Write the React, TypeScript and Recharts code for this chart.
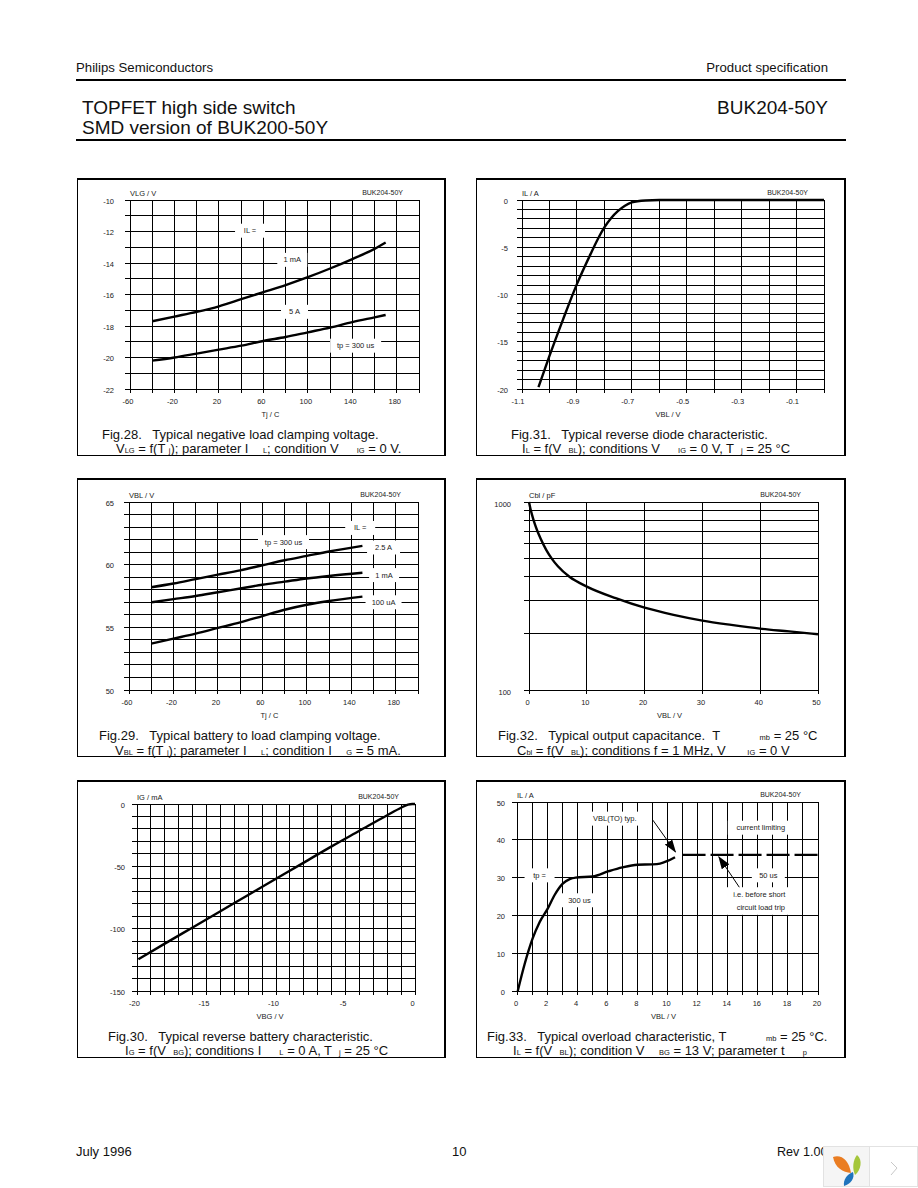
import React from 'react';
import { LineChart, Line, XAxis, YAxis, CartesianGrid, ReferenceDot } from 'recharts';

// ---- Fig.28
const f28XTicks = [-60, -40, -20, 0, 20, 40, 60, 80, 100, 120, 140, 160, 180, 200];
const f28XLabels = [-60, -20, 20, 60, 100, 140, 180];
const f28YTicks = [-22, -21, -20, -19, -18, -17, -16, -15, -14, -13, -12, -11, -10];
const f28YLabels = [-22, -20, -18, -16, -14, -12, -10];
const f28Temp = [-40, -20, 0, 20, 40, 60, 80, 100, 120, 140, 160, 170];
const f28OneMilliAmp = [-17.7, -17.4, -17.1, -16.75, -16.3, -15.85, -15.4, -14.9, -14.35, -13.75, -13.1, -12.7];
const f28FiveAmp = [-20.2, -20.0, -19.75, -19.5, -19.25, -18.95, -18.7, -18.4, -18.1, -17.75, -17.45, -17.3];
const f28Notes = [
  { x: 48, y: -11.95, text: 'IL =' },
  { x: 86, y: -13.8, text: '1 mA' },
  { x: 88, y: -17.1, text: '5 A' },
  { x: 143, y: -19.25, text: 'tp = 300 us' },
];

// ---- Fig.31
const f31XTicks = [-1.1, -1, -0.9, -0.8, -0.7, -0.6, -0.5, -0.4, -0.3, -0.2, -0.1, 0];
const f31XLabels = [-1.1, -0.9, -0.7, -0.5, -0.3, -0.1];
const f31YTicks = [-20, -19, -18, -17, -16, -15, -14, -13, -12, -11, -10, -9, -8, -7, -6, -5, -4, -3, -2, -1, 0];
const f31YLabels = [-20, -15, -10, -5, 0];
const f31Volt = [-1.04, -1.0, -0.95, -0.9, -0.85, -0.825, -0.8, -0.775, -0.75, -0.725, -0.7, -0.65, -0.6, 0];
const f31Current = [-19.8, -16.5, -12.6, -8.9, -5.7, -4.2, -2.9, -1.9, -1.15, -0.6, -0.25, -0.05, 0, 0];

// ---- Fig.29
const f29XTicks = f28XTicks;
const f29XLabels = f28XLabels;
const f29YTicks = [50, 51, 52, 53, 54, 55, 56, 57, 58, 59, 60, 61, 62, 63, 64, 65];
const f29YLabels = [50, 55, 60, 65];
const f29Temp = [-40, -20, 0, 20, 40, 60, 80, 100, 120, 150];
const f29TwoFiveAmp = [58.2, 58.5, 58.85, 59.2, 59.55, 59.95, 60.35, 60.7, 61.05, 61.5];
const f29OneMilliAmp = [57, 57.25, 57.5, 57.8, 58.1, 58.4, 58.65, 58.9, 59.1, 59.35];
const f29HundredMicroAmp = [53.7, 54.1, 54.5, 54.95, 55.4, 55.9, 56.4, 56.8, 57.1, 57.45];
const f29Notes = [
  { x: 148, y: 62.93, text: 'IL =' },
  { x: 79, y: 61.8, text: 'tp = 300 us' },
  { x: 169, y: 61.37, text: '2.5 A' },
  { x: 169.5, y: 59.17, text: '1 mA' },
  { x: 169, y: 57, text: '100 uA' },
];

// ---- Fig.32
const f32XTicks = [0, 10, 20, 30, 40, 50];
const f32YTicks = [100, 200, 300, 400, 500, 600, 700, 800, 900, 1000];
const f32YLabels = [100, 1000];
const f32Volt = [0, 0.25, 0.5, 1, 1.5, 2, 3, 4, 5, 7, 10, 15, 20, 25, 30, 35, 40, 45, 50];
const f32Cap = [1000, 920, 860, 765, 695, 640, 555, 497, 455, 400, 355, 308, 274, 251, 234, 222, 212, 205, 198];

// ---- Fig.30
const f30XTicks = [-20, -19, -18, -17, -16, -15, -14, -13, -12, -11, -10, -9, -8, -7, -6, -5, -4, -3, -2, -1, 0];
const f30XLabels = [-20, -15, -10, -5, 0];
const f30YTicks = [-150, -140, -130, -120, -110, -100, -90, -80, -70, -60, -50, -40, -30, -20, -10, 0];
const f30YLabels = [-150, -100, -50, 0];
const f30Volt = [-19.9, -18, -16, -14, -12, -10, -8, -6, -4, -2, -1, -0.5, -0.2, 0];
const f30Current = [-124.5, -112, -99, -86, -73, -60, -47, -34, -21.5, -9, -3, -0.5, 0, 0];

// ---- Fig.33
const f33XTicks = [0, 1, 2, 3, 4, 5, 6, 7, 8, 9, 10, 11, 12, 13, 14, 15, 16, 17, 18, 19, 20];
const f33XLabels = [0, 2, 4, 6, 8, 10, 12, 14, 16, 18, 20];
const f33YTicks = [0, 10, 20, 30, 40, 50];
const f33Volt = [0.05, 0.5, 1.04, 1.5, 2.04, 2.5, 3.04, 3.5, 3.9, 5.03, 6.1, 7, 8, 9, 9.5, 10, 10.5];
const f33Current = [0, 7, 13.9, 18.2, 21.8, 25.4, 28.4, 29.6, 30, 30.3, 31.7, 32.7, 33.4, 33.5, 33.7, 34.4, 35.4];
const f33LimitVolt = [11, 20];
const f33Limit = [36, 36];
const f33ArrowA = [{ x: 9.03, y: 45.2 }, { x: 10.53, y: 36.8 }];
const f33ArrowB = [{ x: 14.83, y: 27.1 }, { x: 13.41, y: 35.5 }];
const f33Notes = [
  { x: 1.5, y: 30.6, text: 'tp =' },
  { x: 4.15, y: 24, text: '300 us' },
  { x: 16.7, y: 30.6, text: '50 us' },
  { x: 6.5, y: 45.6, text: 'VBL(TO) typ.' },
  { x: 16.2, y: 43.2, text: 'current limiting' },
  { x: 16.1, y: 25.6, text: 'i.e. before short' },
  { x: 16.2, y: 22, text: 'circuit load trip' },
];

const SANS = '"Liberation Sans", Arial, sans-serif';
const zip = (xs: number[], ys: number[]) => xs.map((x, i) => ({ x, y: ys[i] }));

type Note = { x: number; y: number; text: string };
type Series = { data: { x: number; y: number }[]; dash?: string; width?: number; arrow?: boolean };

const NoteMark = (props: any) => {
  const { cx, cy, text } = props;
  const w = 18 + text.length * 3;
  return (
    <g>
      <rect x={cx - w / 2} y={cy - 7} width={w} height={14} fill="#fff" />
      <text x={cx} y={cy + 2.5} textAnchor="middle" fontSize={7.5} fontFamily={SANS} fill="#222">{text}</text>
    </g>
  );
};

function Plot(p: {
  left: number; right: number; top: number; bottom: number;
  xDomain: number[]; yDomain: number[]; xTicks: number[]; yTicks: number[];
  xLabels?: number[]; yLabels?: number[]; log?: boolean; series: Series[]; notes?: Note[];
  xTitle: string; yTitle: string; tag: string; tagRight: number; fig: string;
  yGap: number; yDrop?: number; xShift: number; titleShift: number;
}) {
  const ML = 44, MT = 12, MR = 12, MB = 32;
  const w = p.right - p.left + ML + MR;
  const h = p.bottom - p.top + MT + MB;
  const xShown = p.xLabels ?? p.xTicks;
  const yShown = p.yLabels ?? p.yTicks;
  const tickStyle = { fontSize: 7.5, fontFamily: SANS, fill: '#222' };
  const tickLine = { stroke: '#000', strokeWidth: 1 };
  return (
    <div style={{ position: 'absolute', left: p.left - ML, top: p.top - MT, width: w, height: h }}>
      <LineChart width={w} height={h} margin={{ top: MT, right: MR, left: 0, bottom: 0 }}>
        <defs>
          <marker id={`arrow-${p.fig}`} viewBox="0 0 13 9" refX="12" refY="4.5" markerUnits="userSpaceOnUse" markerWidth="13" markerHeight="9" orient="auto">
            <path d="M0 0 L13 4.5 L0 9 Z" fill="#000" />
          </marker>
        </defs>
        <CartesianGrid stroke="#000" strokeWidth={1} />
        <XAxis
          type="number" dataKey="x" domain={p.xDomain} ticks={p.xTicks} interval={0}
          tickLine={tickLine} axisLine={false} tick={{ ...tickStyle, dx: p.xShift }} tickSize={4} tickMargin={6} height={MB}
          tickFormatter={(v: number) => (xShown.includes(v) ? String(v) : '')}
          label={{ value: p.xTitle, position: 'insideBottom', offset: 4, dx: p.titleShift, fontSize: 7.5, fontFamily: SANS, fill: '#222' }}
        />
        <YAxis
          type="number" domain={p.yDomain} ticks={p.yTicks} interval={0}
          scale={p.log ? 'log' : 'linear'} width={ML}
          tickLine={tickLine} axisLine={false} tick={{ ...tickStyle, dy: p.yDrop ?? 1 }} tickSize={5} tickMargin={p.yGap - 5}
          tickFormatter={(v: number) => (yShown.includes(v) ? String(v) : '')}
        />
        {(p.notes ?? []).map((n, i) => (
          <ReferenceDot key={i} x={n.x} y={n.y} r={0} ifOverflow="visible" shape={(s: any) => <NoteMark {...s} text={n.text} />} />
        ))}
        {p.series.map((s, i) => (
          <Line
            key={i} data={s.data} dataKey="y" type="monotone" dot={false} stroke="#000"
            strokeWidth={s.width ?? 2.4} strokeDasharray={s.dash} isAnimationActive={false}
            markerEnd={s.arrow ? `url(#arrow-${p.fig})` : undefined}
          />
        ))}
      </LineChart>
      <div style={{ position: 'absolute', left: ML, top: 1, fontSize: 7.5, fontFamily: SANS, color: '#222', whiteSpace: 'pre' }}>{p.yTitle}</div>
      <div style={{ position: 'absolute', right: p.tagRight + MR, top: 1, fontSize: 7, fontFamily: SANS, color: '#222', whiteSpace: 'pre' }}>{p.tag}</div>
    </div>
  );
}

const Sub = ({ children }: { children: React.ReactNode }) => (
  <span style={{ fontSize: 7.5 }}>{children}</span>
);

const Cap = ({ x, y, children }: { x: number; y: number; children: React.ReactNode }) => (
  <div style={{ position: 'absolute', left: x, top: y - 8, height: 16, lineHeight: '16px', fontSize: 13, fontFamily: SANS, color: '#111', whiteSpace: 'pre' }}>{children}</div>
);

const Box = ({ x, y, w, h }: { x: number; y: number; w: number; h: number }) => (
  <div style={{ position: 'absolute', left: x, top: y, width: w, height: h, boxSizing: 'border-box', borderStyle: 'solid', borderColor: '#000', borderWidth: '2px 2px 1px 1px' }} />
);

const Txt = ({ x, y, size, right, children }: { x?: number; y: number; size: number; right?: number; children: React.ReactNode }) => (
  <div style={{ position: 'absolute', left: x, right, top: y - size * 0.7, lineHeight: `${size * 1.4}px`, fontSize: size, fontFamily: SANS, color: '#111', whiteSpace: 'pre' }}>{children}</div>
);

export default function App() {
  return (
    <div style={{ position: 'absolute', left: 0, top: 0, width: 918, height: 1188, background: '#fff', overflow: 'hidden' }}>
      <style>{`.recharts-cartesian-grid line, .recharts-cartesian-axis-tick-line { shape-rendering: crispEdges; }`}</style>
      <Txt x={76} y={68} size={13.2}>Philips Semiconductors</Txt>
      <Txt right={918 - 828} y={68} size={13.2}>Product specification</Txt>
      <div style={{ position: 'absolute', left: 76, top: 79, width: 770, height: 2, background: '#000' }} />
      <Txt x={82} y={108.5} size={19}>TOPFET high side switch</Txt>
      <Txt x={82} y={128.5} size={19}>SMD version of BUK200-50Y</Txt>
      <Txt right={918 - 828} y={108.5} size={19}>BUK204-50Y</Txt>
      <div style={{ position: 'absolute', left: 76, top: 139, width: 770, height: 2, background: '#000' }} />

      <Box x={77} y={178} w={369} h={278} />
      <Box x={476} y={178} w={370} h={278} />
      <Box x={77} y={478} w={369} h={279} />
      <Box x={476} y={478} w={370} h={279} />
      <Box x={77} y={780} w={369} h={278} />
      <Box x={476} y={780} w={370} h={278} />

      <Plot fig="28" left={130} right={419} top={200} bottom={389} xDomain={[-60, 200]} yDomain={[-22, -10]}
        xTicks={f28XTicks} xLabels={f28XLabels} yTicks={f28YTicks} yLabels={f28YLabels}
        series={[{ data: zip(f28Temp, f28OneMilliAmp) }, { data: zip(f28Temp, f28FiveAmp) }]} notes={f28Notes}
        yGap={16} xShift={-2} titleShift={-4}
        xTitle="Tj / C" yTitle="VLG / V" tag="BUK204-50Y" tagRight={16} />
      <Plot fig="31" left={522} right={824} top={200} bottom={389} xDomain={[-1.1, 0]} yDomain={[-20, 0]}
        xTicks={f31XTicks} xLabels={f31XLabels} yTicks={f31YTicks} yLabels={f31YLabels}
        series={[{ data: zip(f31Volt, f31Current) }]}
        yGap={14} xShift={-4} titleShift={-5}
        xTitle="VBL / V" yTitle="IL / A" tag="BUK204-50Y" tagRight={16} />
      <Plot fig="29" left={129} right={418} top={502} bottom={690} xDomain={[-60, 200]} yDomain={[50, 65]}
        xTicks={f29XTicks} xLabels={f29XLabels} yTicks={f29YTicks} yLabels={f29YLabels}
        series={[{ data: zip(f29Temp, f29TwoFiveAmp) }, { data: zip(f29Temp, f29OneMilliAmp) }, { data: zip(f29Temp, f29HundredMicroAmp) }]}
        yGap={15} xShift={-2} titleShift={-4}
        notes={f29Notes} xTitle="Tj / C" yTitle="VBL / V" tag="BUK204-50Y" tagRight={17} />
      <Plot fig="32" left={529} right={818} top={502} bottom={690} xDomain={[0, 50]} yDomain={[100, 1000]} log
        xTicks={f32XTicks} yTicks={f32YTicks} yLabels={f32YLabels}
        series={[{ data: zip(f32Volt, f32Cap) }]}
        yGap={18} yDrop={2.5} xShift={-1.5} titleShift={-4}
        xTitle="VBL / V" yTitle="Cbl / pF" tag="BUK204-50Y" tagRight={17} />
      <Plot fig="30" left={137} right={415} top={804} bottom={991} xDomain={[-20, 0]} yDomain={[-150, 0]}
        xTicks={f30XTicks} xLabels={f30XLabels} yTicks={f30YTicks} yLabels={f30YLabels}
        series={[{ data: zip(f30Volt, f30Current) }]}
        yGap={12} xShift={-2.5} titleShift={-6}
        xTitle="VBG / V" yTitle="IG / mA" tag="BUK204-50Y" tagRight={16} />
      <Plot fig="33" left={517} right={818} top={802} bottom={991} xDomain={[0, 20]} yDomain={[0, 50]}
        xTicks={f33XTicks} xLabels={f33XLabels} yTicks={f33YTicks}
        series={[
          { data: zip(f33Volt, f33Current) },
          { data: zip(f33LimitVolt, f33Limit), dash: '23 5' },
          { data: f33ArrowA, width: 1, arrow: true },
          { data: f33ArrowB, width: 1, arrow: true },
        ]}
        yGap={12} xShift={-1} titleShift={-4}
        notes={f33Notes} xTitle="VBL / V" yTitle="IL / A" tag="BUK204-50Y" tagRight={17} />

      <Cap x={102} y={435}>Fig.28.   Typical negative load clamping voltage.</Cap>
      <Cap x={116} y={449}>V<Sub>LG</Sub> = f(T <Sub>j</Sub>); parameter I    <Sub>L</Sub>; condition V     <Sub>IG</Sub> = 0 V.</Cap>
      <Cap x={511} y={435}>Fig.31.   Typical reverse diode characteristic.</Cap>
      <Cap x={522} y={449}>I<Sub>L</Sub> = f(V  <Sub>BL</Sub>); conditions V     <Sub>IG</Sub> = 0 V, T  <Sub>j</Sub> = 25 °C</Cap>
      <Cap x={99} y={736}>Fig.29.   Typical battery to load clamping voltage.</Cap>
      <Cap x={115} y={751}>V<Sub>BL</Sub> = f(T <Sub>j</Sub>); parameter I    <Sub>L</Sub>; condition I    <Sub>G</Sub> = 5 mA.</Cap>
      <Cap x={498} y={736}>Fig.32.   Typical output capacitance.  T           <Sub>mb</Sub> = 25 °C</Cap>
      <Cap x={517} y={751}>C<Sub>bl</Sub> = f(V  <Sub>BL</Sub>); conditions f = 1 MHz, V      <Sub>IG</Sub> = 0 V</Cap>
      <Cap x={108} y={1037}>Fig.30.   Typical reverse battery characteristic.</Cap>
      <Cap x={125} y={1051}>I<Sub>G</Sub> = f(V  <Sub>BG</Sub>); conditions I     <Sub>L</Sub> = 0 A, T  <Sub>j</Sub> = 25 °C</Cap>
      <Cap x={487} y={1037}>Fig.33.   Typical overload characteristic, T           <Sub>mb</Sub> = 25 °C.</Cap>
      <Cap x={513} y={1051}>I<Sub>L</Sub> = f(V  <Sub>BL</Sub>); condition V    <Sub>BG</Sub> = 13 V; parameter t     <Sub>p</Sub></Cap>

      <Txt x={76} y={1152.5} size={13}>July 1996</Txt>
      <Txt x={452} y={1152.5} size={13}>10</Txt>
      <Txt x={777} y={1152.5} size={12.6}>Rev 1.00</Txt>

      <svg style={{ position: 'absolute', left: 823, top: 1146 }} width={95} height={41}>
        <rect x={0.5} y={0.5} width={94} height={40} fill="#fff" stroke="#e2e2e2" />
        <rect x={1} y={1} width={45} height={39} fill="#f5f5f5" />
        <line x1={46.5} y1={1} x2={46.5} y2={40} stroke="#e2e2e2" />
        <path d="M10 11 C18 8 26 14 28 27 C20 26 12 22 10 11Z" fill="#ea7d22" />
        <path d="M34 9 C40 14 38 24 32 29 C29 22 30 14 34 9Z" fill="#a4c63a" />
        <path d="M30 26 C32 32 28 38 21 40 C20 34 24 28 30 26Z" fill="#1f74bd" />
        <path d="M68 16 L74 22 L68 29" fill="none" stroke="#c8c8c8" />
      </svg>
    </div>
  );
}
